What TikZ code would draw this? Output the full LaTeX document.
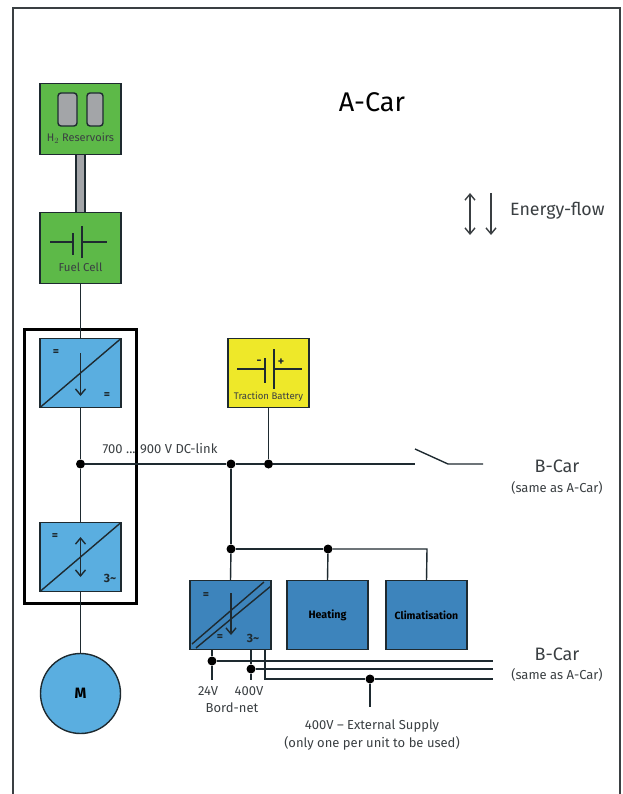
\documentclass[tikz,border=0pt]{standalone}
\usepackage{fontspec}
\setmainfont{Fira Sans}
\usetikzlibrary{positioning, arrows.meta, calc}
\definecolor{kGreen}{HTML}{5DB948}
\definecolor{kLight}{HTML}{5AAEE0}
\definecolor{kDark}{HTML}{3D84BC}
\definecolor{kYellow}{HTML}{EEE829}
\definecolor{kGrey}{HTML}{A3A5A8}
\definecolor{kLine}{HTML}{1E2A30}
\definecolor{kInk}{HTML}{3A3F42}
\tikzset{
  unitbox/.style={draw=kLine, line width=1.4pt, minimum width=81pt, minimum height=69pt, inner sep=0pt, outer sep=0pt},
  dot/.style={circle, fill=black, minimum size=9pt, inner sep=0pt},
  lbl/.style={inner sep=0pt, text=kInk, align=center},
  sign/.style={inner sep=0pt, text=kLine, font=\fontsize{12}{12}\selectfont\bfseries},
  wire/.style={line width=1.4pt, draw=kLine},
}
\begin{document}
\begin{tikzpicture}[x=1pt, y=-1pt, >={Straight Barb[length=6pt,width=10pt]}, font=\fontsize{13}{18}\selectfont]
  \useasboundingbox (0,0) rectangle (622,794);
  \draw[draw=kInk, line width=1.2pt] (13,794) -- (13,8) -- (620,8) -- (620,794);

  % left column
  \node[unitbox, fill=kGreen, minimum height=71pt] (h2) at (80.5,119) {};
  \node[unitbox, fill=kGreen, minimum height=71pt, below=58pt of h2] (fc) {};
  \node[unitbox, fill=kLight, below=55pt of fc] (conv1) {};
  \node[unitbox, fill=kLight, below=115pt of conv1] (conv2) {};
  \node[circle, draw=kLine, line width=1.4pt, fill=kLight, minimum size=80pt, inner sep=0pt, outer sep=0pt, below=62pt of conv2] (motor) {\fontsize{15}{15}\selectfont\bfseries M};
  \node[dot] (dcl) at (80.5,464) {};
  \draw[line width=3pt] (24,329) rectangle (136,603);

  % reservoirs and pipe
  \draw[draw=kLine, fill=kGrey, line width=1.4pt, rounded corners=3pt] (58,93) rectangle (77,126);
  \draw[draw=kLine, fill=kGrey, line width=1.4pt, rounded corners=3pt] (87,93) rectangle (103,126);
  \node[lbl, font=\fontsize{11}{11}\selectfont] (h2txt) at (80.5,138) {H$_2$ Reservoirs};
  \draw[draw=kLine, fill=kGrey, line width=1.4pt] (h2.south)+(-4.5,0) rectangle ($(fc.north)+(4.5,0)$);
  \draw[wire] (50,242) -- (73,242) (73,233) -- (73,255) (82,226) -- (82,258) (82,242) -- (107,242);
  \node[lbl, font=\fontsize{11.5}{11.5}\selectfont] (fctxt) at (80.5,267) {Fuel Cell};

  % traction battery
  \node[unitbox, fill=kYellow, right=107pt of conv1] (batt) {};
  \draw[wire] (237,369) -- (265,369) (265,358) -- (265,383) (274,349) -- (274,389) (274,369) -- (302,369);
  \node[sign] (minus) at (259,362) {-};
  \node[sign] (plus) at (281,362) {+};
  \node[lbl, font=\fontsize{9.6}{9.6}\selectfont] (batttxt) at (268.5,397) {Traction Battery};

  % converters
  \draw[wire] (conv1.south west) -- (conv1.north east);
  \draw[wire, ->] (80.5,353) -- (80.5,396);
  \node[sign] (eq1) at (56,353) {=};
  \node[sign] (eq2) at (107,396) {=};
  \draw[wire] (conv2.south west) -- (conv2.north east);
  \draw[wire, <->] (80.5,537) -- (80.5,577);
  \node[sign] (eq3) at (55,537) {=};
  \node[sign] (ac1) at (110,578) {3\textasciitilde};

  % loads
  \node[unitbox, fill=kDark] (conv3) at (230.5,615) {};
  \node[unitbox, fill=kDark, right=16pt of conv3] (heat) {\fontsize{10.7}{10.7}\selectfont\bfseries Heating};
  \node[unitbox, fill=kDark, right=18pt of heat] (clim) {\fontsize{10.5}{10.5}\selectfont\bfseries Climatisation};
  \draw[wire] (192,644) -- (264,582) (196,648) -- (271,586);
  \draw[wire, ->] (231,593) -- (231,635);
  \node[sign] (eq4) at (206,596) {=};
  \node[sign] (eq5) at (220,638) {=};
  \node[sign] (ac2) at (253,638) {3\textasciitilde};

  % dc link
  \node[dot] (dcb) at (231,464) {};
  \node[dot] (dcc) at (268.5,464) {};
  \node[dot] (busa) at (231,549) {};
  \node[dot] (busb) at (328,549) {};
  \coordinate (swa) at (415,464);
  \coordinate (swb) at (448,464);
  \coordinate (swc) at (483,464);
  \coordinate (swt) at (415,449);
  \coordinate (busc) at (427,549);
  \draw[wire] (fc.south) -- (conv1.north);
  \draw[wire] (conv1.south) -- (dcl);
  \draw[wire] (dcl) -- (conv2.north);
  \draw[wire] (conv2.south) -- (motor.north);
  \draw[wire] (dcl) -- (dcb);
  \draw[wire] (dcb) -- (dcc);
  \draw[wire] (dcc) -- (swa);
  \draw[wire] (swt) -- (swb) -- (swc);
  \draw[wire] (batt.south) -- (dcc);
  \draw[wire] (dcb) -- (busa);
  \draw[wire] (busa) -- (conv3.north);
  \draw[wire] (busa) -- (busb);
  \draw[wire] (busb) -- (heat.north);
  \draw[wire] (busb) -- (busc) -- (clim.north);
  \node[lbl] (dctxt) at (160,449) {700 ... 900 V DC-link};

  % supply rails
  \node[dot] (v24) at (212,661) {};
  \node[dot] (v400) at (251,669) {};
  \node[dot] (ext) at (370,679) {};
  \coordinate (v24a) at (212,649);
  \coordinate (v24b) at (212,680);
  \coordinate (v400a) at (251,649);
  \coordinate (v400b) at (251,680);
  \coordinate (exta) at (265,649);
  \coordinate (extb) at (265,679);
  \coordinate (extc) at (370,707);
  \coordinate (r1) at (493,661);
  \coordinate (r2) at (493,669);
  \coordinate (r3) at (493,679);
  \draw[wire] (v24a) -- (v24) -- (v24b);
  \draw[wire] (v400a) -- (v400) -- (v400b);
  \draw[wire] (v24) -- (r1);
  \draw[wire] (v400) -- (r2);
  \draw[wire] (exta) -- (extb) -- (ext) -- (r3);
  \draw[wire] (ext) -- (extc);
  \node[lbl] (t24) at (208,691) {24V};
  \node[lbl] (t400) at (249,691) {400V};
  \node[lbl] (tbord) at (232,708) {Bord-net};
  \node[lbl] (text1) at (372,735) {400V – External Supply\\(only one per unit to be used)};

  % headings
  \node[lbl, text=black, font=\fontsize{27}{27}\selectfont] (acar) at (372,102) {A-Car};
  \coordinate (fa1) at (470,193);
  \coordinate (fa2) at (470,235);
  \coordinate (fb1) at (491,193);
  \coordinate (fb2) at (491,235);
  \draw[line width=1.4pt, draw=kInk, <->] (fa1) -- (fa2);
  \draw[line width=1.4pt, draw=kInk, ->] (fb1) -- (fb2);
  \node[lbl, anchor=west, font=\fontsize{17.8}{17.8}\selectfont] (flow) at (510,211) {Energy-flow};
  \node[lbl, font=\fontsize{18}{18}\selectfont] (bcar1) at (557,466) {B-Car};
  \node[lbl, font=\fontsize{13}{13}\selectfont] (same1) at (557,488) {(same as A-Car)};
  \node[lbl, font=\fontsize{18}{18}\selectfont] (bcar2) at (557,654) {B-Car};
  \node[lbl, font=\fontsize{13}{13}\selectfont] (same2) at (557,675) {(same as A-Car)};
\end{tikzpicture}
\end{document}
